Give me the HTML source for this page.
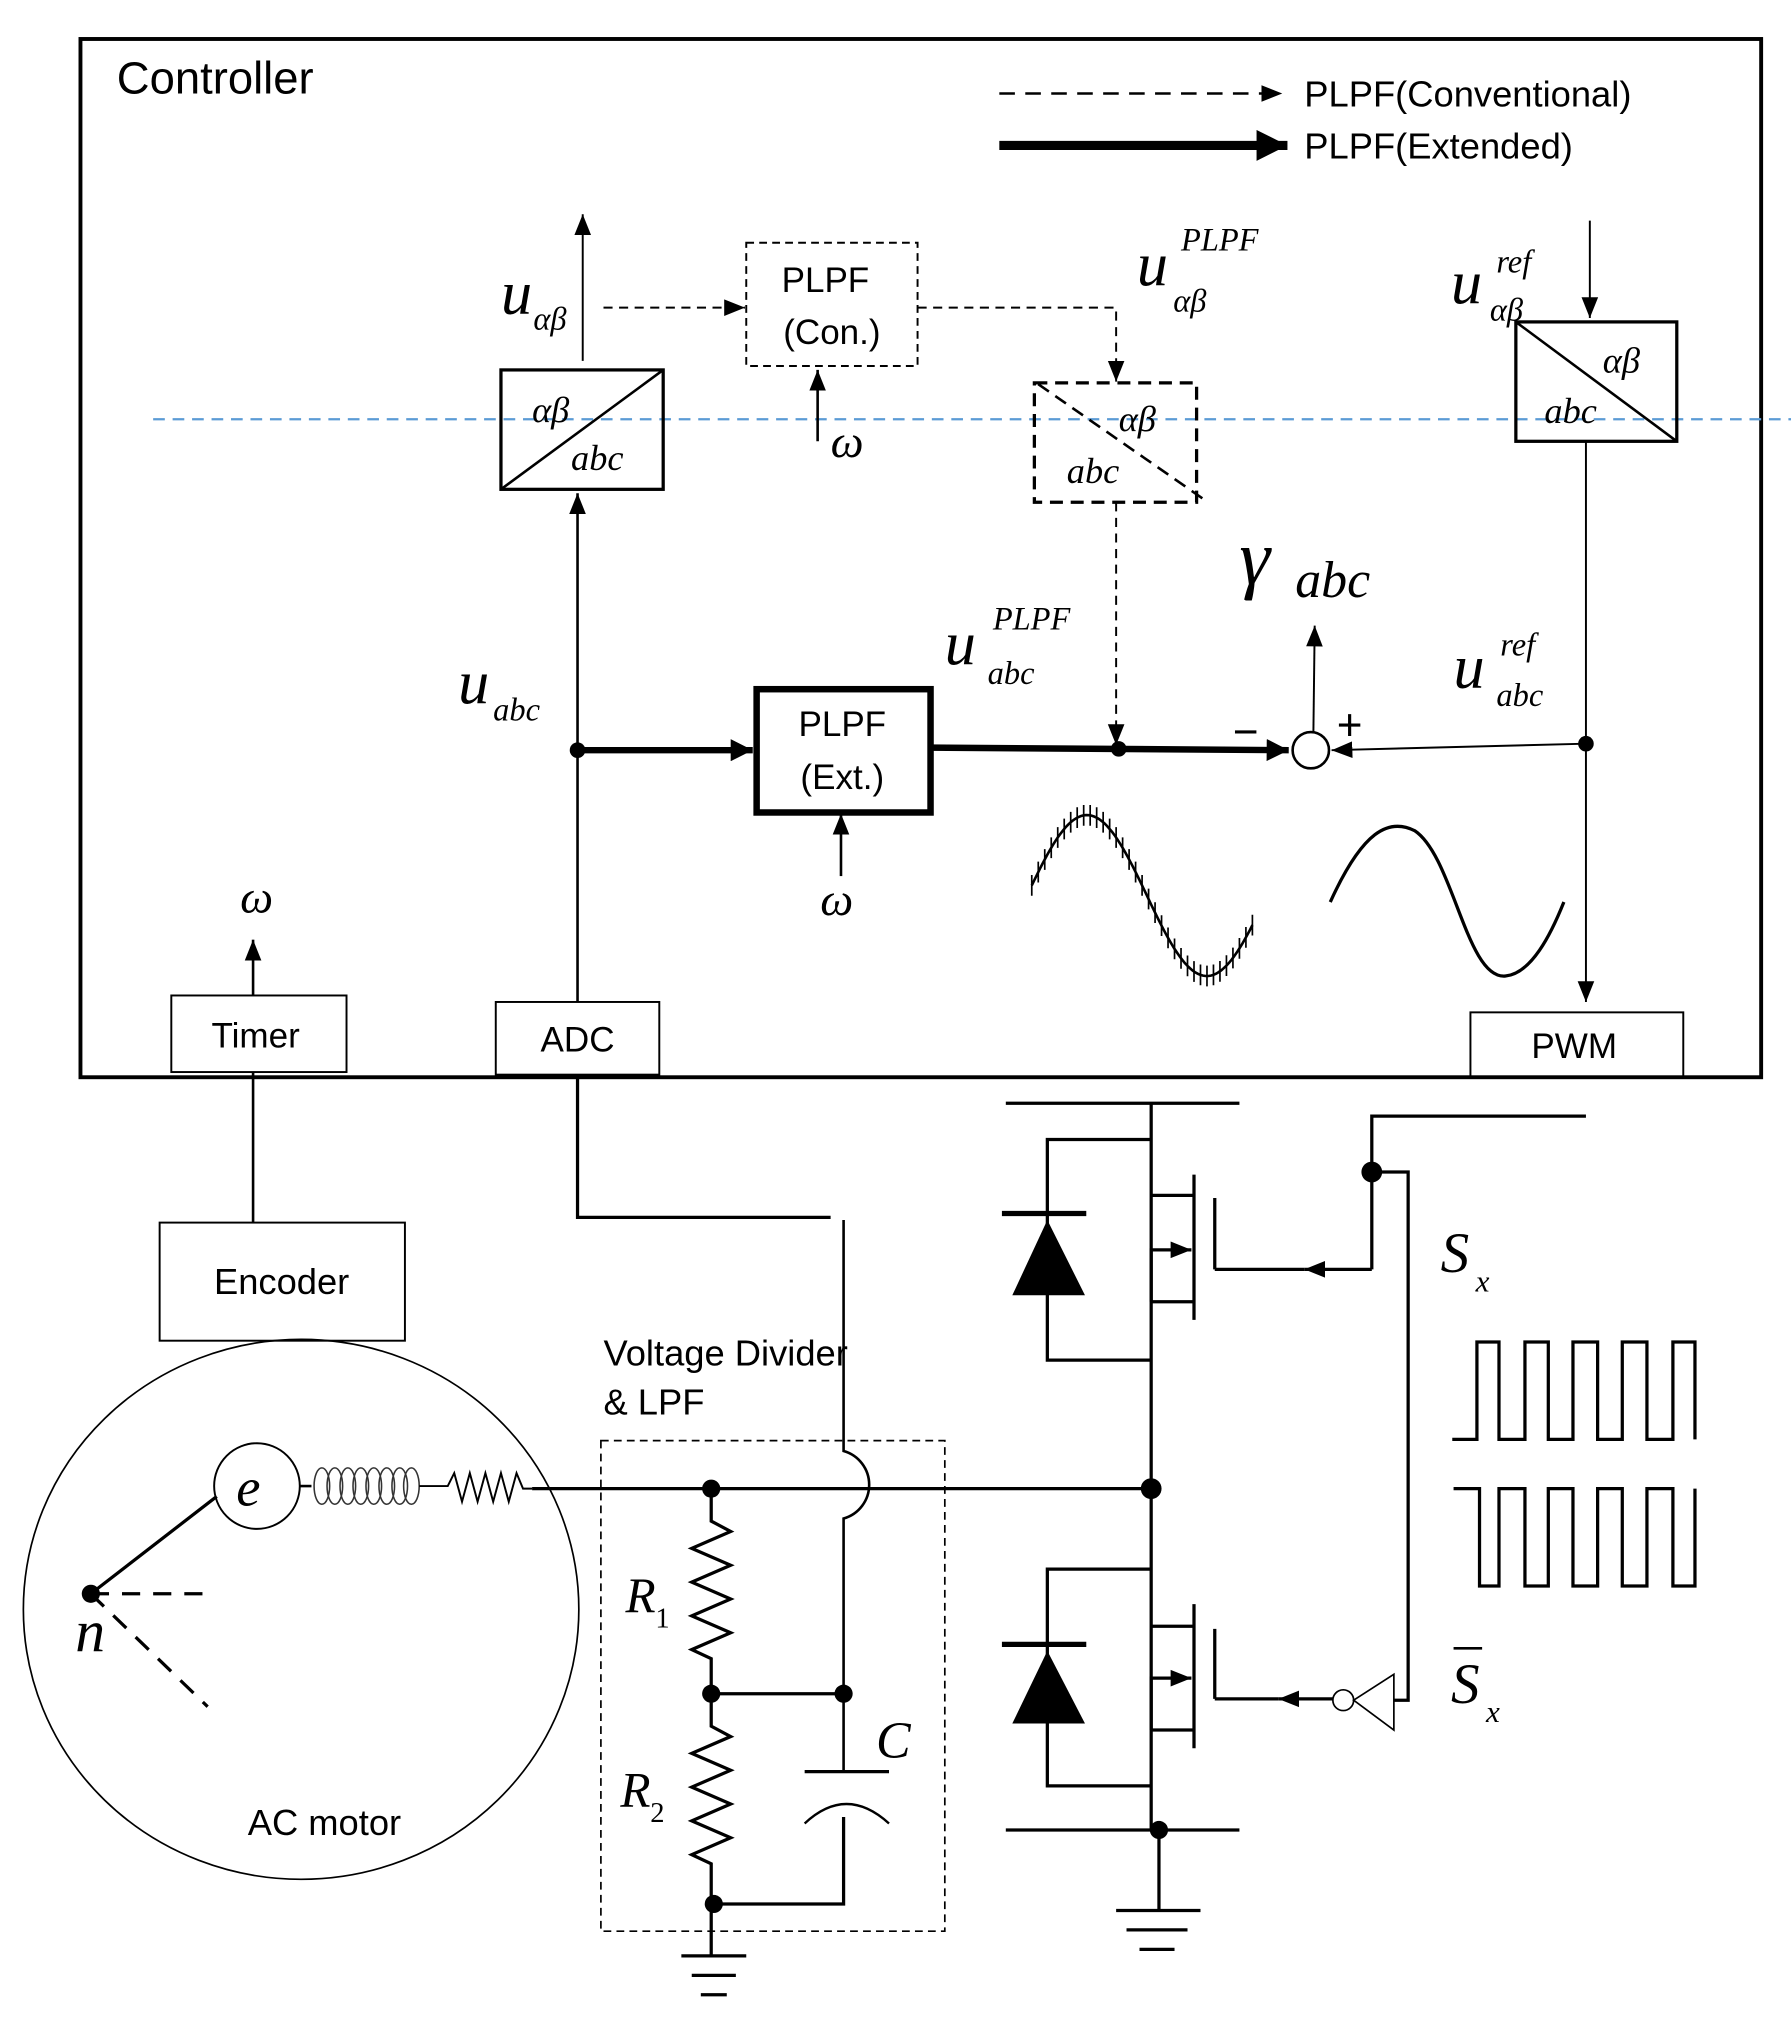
<!DOCTYPE html>
<html><head><meta charset="utf-8"><style>
html,body{margin:0;padding:0;background:#fff}
svg{display:block}
.s{font-family:"Liberation Sans",sans-serif;fill:#000}
.m{font-family:"Liberation Serif",serif;font-style:italic;fill:#000}
</style></head><body>
<svg id="g" width="1791" height="2026" viewBox="0 0 1380 1561" xmlns="http://www.w3.org/2000/svg">
<defs>
<marker id="a2" viewBox="0 0 10 10" refX="10" refY="5" markerWidth="16" markerHeight="16" markerUnits="userSpaceOnUse" orient="auto"><path d="M0,1L10,5L0,9z" fill="#000"/></marker>
<marker id="a3" viewBox="0 0 10 10" refX="10" refY="5" markerWidth="3.4" markerHeight="3.4" orient="auto"><path d="M0,0L10,5L0,10z" fill="#000"/></marker>
</defs>
<g fill="none" stroke="#000">
<rect x="62" y="30" width="1295" height="800" stroke-width="3"/>
<line x1="770" y1="72" x2="988" y2="72" stroke-width="2" stroke-dasharray="12,8" marker-end="url(#a2)"/>
<line x1="770" y1="112" x2="992" y2="112" stroke-width="7" marker-end="url(#a3)"/>
<line x1="118" y1="323" x2="1380" y2="323" stroke="#5b9bd5" stroke-width="1.8" stroke-dasharray="9,6"/>
<rect x="386" y="285" width="125" height="92" stroke-width="2.5"/>
<line x1="386" y1="377" x2="511" y2="285" stroke-width="2"/>
<line x1="449" y1="278" x2="449" y2="165" stroke-width="1.5" marker-end="url(#a2)"/>
<line x1="465" y1="237" x2="574" y2="237" stroke-width="1.5" stroke-dasharray="7,5" marker-end="url(#a2)"/>
<rect x="575" y="187" width="132" height="95" stroke-width="1.5" stroke-dasharray="6,4"/>
<line x1="630" y1="340" x2="630" y2="285" stroke-width="2" marker-end="url(#a2)"/>
<polyline points="707,237 860,237 860,294" stroke-width="1.5" stroke-dasharray="7,5" marker-end="url(#a2)"/>
<rect x="797" y="295" width="125" height="92" stroke-width="2.5" stroke-dasharray="10,6"/>
<line x1="800" y1="296" x2="928" y2="385" stroke-width="2" stroke-dasharray="10,6"/>
<line x1="860" y1="387" x2="860" y2="574" stroke-width="1.5" stroke-dasharray="7,5" marker-end="url(#a2)"/>
<rect x="1168" y="248" width="124" height="92" stroke-width="2.5"/>
<line x1="1168" y1="248" x2="1292" y2="340" stroke-width="2"/>
<line x1="1225" y1="170" x2="1225" y2="245" stroke-width="1.5" marker-end="url(#a2)"/>
<line x1="1222" y1="340" x2="1222" y2="772" stroke-width="1.5" marker-end="url(#a2)"/>
<rect x="1133" y="780" width="164" height="50" stroke-width="1.5"/>
<line x1="1222" y1="573" x2="1026" y2="578" stroke-width="1.5" marker-end="url(#a2)"/>
<circle cx="1010" cy="578" r="14" stroke-width="2"/>
<line x1="1012" y1="564" x2="1013" y2="482" stroke-width="1.5" marker-end="url(#a2)"/>
<line x1="445" y1="578" x2="580" y2="578" stroke-width="5" marker-end="url(#a3)"/>
<rect x="583" y="531" width="134" height="95" stroke-width="5"/>
<line x1="717" y1="576" x2="993" y2="578" stroke-width="5" marker-end="url(#a3)"/>
<line x1="648" y1="675" x2="648" y2="627" stroke-width="2" marker-end="url(#a2)"/>
<line x1="445" y1="772" x2="445" y2="380" stroke-width="2" marker-end="url(#a2)"/>
<rect x="382" y="772" width="126" height="56" stroke-width="1.5"/>
<rect x="132" y="767" width="135" height="59" stroke-width="1.5"/>
<line x1="195" y1="767" x2="195" y2="724" stroke-width="2" marker-end="url(#a2)"/>
<path id="noisy" stroke-width="2"/>
<path id="ticks" stroke-width="1.3"/>
<path d="M1025,695 C1050,640 1070,630 1090,640 C1120,660 1130,755 1160,752 C1180,750 1195,720 1205,695" stroke-width="2.5"/>
<line x1="195" y1="826" x2="195" y2="942" stroke-width="2"/>
<rect x="123" y="942" width="189" height="91" stroke-width="1.5"/>
<polyline points="445,830 445,938 640,938" stroke-width="2.5"/>
<path d="M650,940 L650,1118 A27,27 0 0 1 650,1170 L650,1365" stroke-width="2"/>
<rect x="463" y="1110" width="265" height="378" stroke-width="1.3" stroke-dasharray="6,4"/>
<line x1="410" y1="1147" x2="893" y2="1147" stroke-width="2.5"/>
<polyline points="548,1147 548,1172 563,1180 533,1193 563,1206 533,1219 563,1232 533,1245 563,1258 533,1271 548,1278 548,1305" stroke-width="2.5"/>
<line x1="548" y1="1305" x2="650" y2="1305" stroke-width="2.5"/>
<polyline points="548,1305 548,1330 563,1338 533,1351 563,1364 533,1377 563,1390 533,1403 563,1416 533,1429 548,1436 548,1507" stroke-width="2.5"/>
<polyline points="550,1467 650,1467 650,1400" stroke-width="2.5"/>
<line x1="620" y1="1365" x2="685" y2="1365" stroke-width="2.5"/>
<path d="M620,1405 Q652,1375 685,1405" stroke-width="1.8"/>
<line x1="525" y1="1507" x2="575" y2="1507" stroke-width="2.5"/>
<line x1="533" y1="1522" x2="567" y2="1522" stroke-width="2.5"/>
<line x1="540" y1="1537" x2="560" y2="1537" stroke-width="2.5"/>
<ellipse cx="232" cy="1240" rx="214" ry="208" stroke-width="1.3"/>
<line x1="70" y1="1228" x2="167" y2="1153" stroke-width="2.5"/>
<line x1="70" y1="1228" x2="160" y2="1228" stroke-width="2.5" stroke-dasharray="14,10"/>
<line x1="70" y1="1228" x2="160" y2="1315" stroke-width="2.5" stroke-dasharray="14,10"/>
<circle cx="198" cy="1145" r="33" stroke-width="1.5"/>
<line x1="231" y1="1145" x2="240" y2="1145" stroke-width="2"/>
<g stroke-width="1.2" stroke="#333">
<ellipse cx="248" cy="1145" rx="6" ry="14"/><ellipse cx="258" cy="1145" rx="6" ry="14"/><ellipse cx="268" cy="1145" rx="6" ry="14"/><ellipse cx="278" cy="1145" rx="6" ry="14"/><ellipse cx="288" cy="1145" rx="6" ry="14"/><ellipse cx="298" cy="1145" rx="6" ry="14"/><ellipse cx="308" cy="1145" rx="6" ry="14"/><ellipse cx="317" cy="1145" rx="6" ry="14"/>
</g>
<polyline points="323,1145 345,1145 350,1135 356,1157 362,1135 368,1157 374,1135 380,1157 386,1135 392,1157 398,1135 403,1147 410,1147" stroke-width="1.5"/>
<line x1="775" y1="850" x2="955" y2="850" stroke-width="2.5"/>
<line x1="887" y1="850" x2="887" y2="1410" stroke-width="2.5"/>
<line x1="775" y1="1410" x2="955" y2="1410" stroke-width="2.5"/>
<line x1="893" y1="1410" x2="893" y2="1472" stroke-width="2.5"/>
<line x1="860" y1="1472" x2="925" y2="1472" stroke-width="2.5"/>
<line x1="868" y1="1487" x2="915" y2="1487" stroke-width="2.5"/>
<line x1="878" y1="1502" x2="905" y2="1502" stroke-width="2.5"/>
<g stroke-width="2.5">
<polyline points="887,878 807,878 807,1048 887,1048"/>
<line x1="772" y1="935" x2="837" y2="935" stroke-width="4"/>
<line x1="920" y1="905" x2="920" y2="1017"/>
<line x1="936" y1="923" x2="936" y2="978"/>
<line x1="887" y1="921" x2="920" y2="921"/>
<polyline points="887,1003 887,963 918,963" marker-end="url(#a2)"/>
<line x1="887" y1="1003" x2="920" y2="1003"/>
<line x1="1057" y1="978" x2="1005" y2="978" marker-end="url(#a2)"/><line x1="1005" y1="978" x2="936" y2="978"/>
<polyline points="1057,978 1057,860 1222,860"/>
<polyline points="1057,903 1085,903 1085,1310 1074,1310"/>
<polyline points="887,1209 807,1209 807,1376 887,1376"/>
<line x1="772" y1="1267" x2="837" y2="1267" stroke-width="4"/>
<line x1="920" y1="1236" x2="920" y2="1347"/>
<line x1="936" y1="1255" x2="936" y2="1309"/>
<line x1="887" y1="1253" x2="920" y2="1253"/>
<polyline points="887,1333 887,1293 918,1293" marker-end="url(#a2)"/>
<line x1="887" y1="1333" x2="920" y2="1333"/>
<line x1="1027" y1="1309" x2="985" y2="1309" marker-end="url(#a2)"/><line x1="985" y1="1309" x2="936" y2="1309"/>
</g>
<circle cx="1035" cy="1310" r="8" stroke-width="1.3"/>
<polygon points="1043,1310 1074,1290 1074,1333" stroke-width="1.3"/>
<polyline points="1119,1109 1138,1109 1138,1034 1155,1034 1155,1109 1175,1109 1175,1034 1193,1034 1193,1109 1212,1109 1212,1034 1231,1034 1231,1109 1250,1109 1250,1034 1269,1034 1269,1109 1289,1109 1289,1034 1306,1034 1306,1109" stroke-width="2.5"/>
<polyline points="1120,1147 1140,1147 1140,1222 1155,1222 1155,1147 1175,1147 1175,1222 1193,1222 1193,1147 1212,1147 1212,1222 1231,1222 1231,1147 1250,1147 1250,1222 1269,1222 1269,1147 1289,1147 1289,1222 1306,1222 1306,1147" stroke-width="2.5"/>
</g>
<g fill="#000">
<path d="M807,940 L780,998 L836,998 Z"/>
<path d="M807,1272 L780,1328 L836,1328 Z"/>
<circle cx="445" cy="578" r="6"/><circle cx="862" cy="577" r="6"/><circle cx="1222" cy="573" r="6"/>
<circle cx="548" cy="1147" r="7"/><circle cx="548" cy="1305" r="7"/><circle cx="650" cy="1305" r="7"/><circle cx="550" cy="1467" r="7"/>
<circle cx="70" cy="1228" r="7"/><circle cx="887" cy="1147" r="8"/><circle cx="893" cy="1410" r="7"/><circle cx="1057" cy="903" r="8"/>
</g>
<text class="s" x="90" y="72" font-size="35">Controller</text>
<text class="s" x="1005" y="82" font-size="28">PLPF(Conventional)</text>
<text class="s" x="1005" y="122" font-size="28">PLPF(Extended)</text>
<text class="s" x="636" y="225" font-size="27" text-anchor="middle">PLPF</text>
<text class="s" x="641" y="265" font-size="27" text-anchor="middle">(Con.)</text>
<text class="s" x="649" y="567" font-size="27" text-anchor="middle">PLPF</text>
<text class="s" x="649" y="608" font-size="27" text-anchor="middle">(Ext.)</text>
<text class="s" x="197" y="807" font-size="27" text-anchor="middle">Timer</text>
<text class="s" x="445" y="810" font-size="27" text-anchor="middle">ADC</text>
<text class="s" x="1213" y="815" font-size="27" text-anchor="middle">PWM</text>
<text class="s" x="217" y="997" font-size="28" text-anchor="middle">Encoder</text>
<text class="s" x="465" y="1052" font-size="28">Voltage Divider</text>
<text class="s" x="465" y="1090" font-size="28">&amp; LPF</text>
<text class="s" x="250" y="1414" font-size="28" text-anchor="middle">AC motor</text>
<g class="m">
<text x="410" y="325" font-size="28">αβ</text><text x="440" y="362" font-size="28">abc</text>
<text x="862" y="332" font-size="28">αβ</text><text x="822" y="372" font-size="28">abc</text>
<text x="1235" y="287" font-size="28">αβ</text><text x="1190" y="326" font-size="28">abc</text>
<text x="386" y="242" font-size="48">u</text><text x="411" y="254" font-size="25">αβ</text>
<text x="876" y="220" font-size="48">u</text><text x="910" y="193" font-size="25">PLPF</text><text x="904" y="240" font-size="25">αβ</text>
<text x="1118" y="234" font-size="48">u</text><text x="1153" y="210" font-size="25">ref</text><text x="1148" y="247" font-size="25">αβ</text>
<text x="728" y="512" font-size="48">u</text><text x="765" y="485" font-size="25">PLPF</text><text x="761" y="527" font-size="25">abc</text>
<text x="1120" y="530" font-size="48">u</text><text x="1156" y="505" font-size="25">ref</text><text x="1153" y="544" font-size="25">abc</text>
<text x="353" y="542" font-size="48">u</text><text x="380" y="555" font-size="25">abc</text>
<text x="955" y="450" font-size="60">γ</text><text x="998" y="460" font-size="40">abc</text>
<text x="640" y="352" font-size="36">ω</text><text x="632" y="705" font-size="36">ω</text><text x="185" y="703" font-size="36">ω</text>
<text x="182" y="1160" font-size="42">e</text>
<text x="58" y="1272" font-size="46">n</text>
<text x="482" y="1242" font-size="38">R</text><text x="505" y="1254" font-size="22" font-style="normal">1</text>
<text x="478" y="1392" font-size="38">R</text><text x="501" y="1404" font-size="22" font-style="normal">2</text>
<text x="675" y="1354" font-size="40">C</text>
<text x="1110" y="980" font-size="44">S</text><text x="1137" y="995" font-size="24">x</text>
<text x="1118" y="1312" font-size="44">S</text><text x="1145" y="1327" font-size="24">x</text>
</g>
<line x1="1120" y1="1270" x2="1142" y2="1270" stroke="#000" stroke-width="2"/>
<text class="s" x="950" y="575" font-size="34">−</text>
<text class="s" x="1030" y="570" font-size="34">+</text>
</svg>
<script>
(function(){function f(x){var t=(x-795)/170;return 690-62*Math.sin(2*Math.PI*(t*0.92+0.02));}
var p=[],q=[];for(var i=0;i<=170;i+=2){var x=795+i;p.push((i?'L':'M')+x+','+f(x).toFixed(1));}
for(var i=0;i<=170;i+=5){var x=795+i,y=f(x);q.push('M'+x+','+(y-8).toFixed(1)+'L'+x+','+(y+8).toFixed(1));}
document.getElementById('noisy').setAttribute('d',p.join(' '));document.getElementById('ticks').setAttribute('d',q.join(' '));})();
</script>
</body></html>
